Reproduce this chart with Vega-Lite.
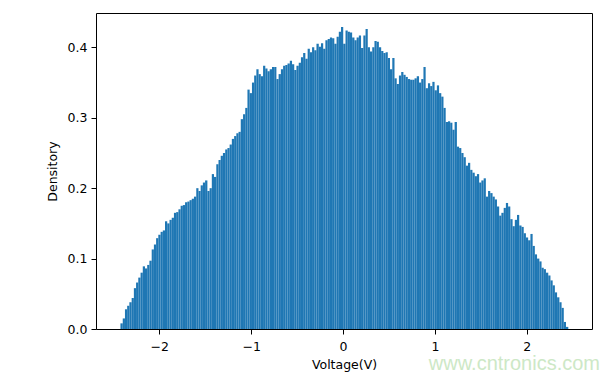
{
  "$schema": "https://vega.github.io/schema/vega-lite/v6.json",
  "width": 496,
  "height": 316,
  "autosize": {"type": "none"},
  "padding": {"left": 96, "top": 13, "right": 17, "bottom": 48},
  "background": "white",
  "title": {"text": "www.cntronics.com", "orient": "bottom", "anchor": "end", "color": "#cde8c6", "font": "Liberation Sans", "fontSize": 20, "fontWeight": "normal", "offset": -17, "dx": 8},
  "data": {"values": [
    {"lo": -2.422, "hi": -2.397, "d": 0.008},
    {"lo": -2.397, "hi": -2.373, "d": 0.015},
    {"lo": -2.373, "hi": -2.349, "d": 0.028},
    {"lo": -2.349, "hi": -2.325, "d": 0.033},
    {"lo": -2.325, "hi": -2.300, "d": 0.038},
    {"lo": -2.300, "hi": -2.276, "d": 0.044},
    {"lo": -2.276, "hi": -2.252, "d": 0.058},
    {"lo": -2.252, "hi": -2.228, "d": 0.066},
    {"lo": -2.228, "hi": -2.203, "d": 0.073},
    {"lo": -2.203, "hi": -2.179, "d": 0.080},
    {"lo": -2.179, "hi": -2.155, "d": 0.089},
    {"lo": -2.155, "hi": -2.131, "d": 0.086},
    {"lo": -2.131, "hi": -2.107, "d": 0.091},
    {"lo": -2.107, "hi": -2.082, "d": 0.097},
    {"lo": -2.082, "hi": -2.058, "d": 0.113},
    {"lo": -2.058, "hi": -2.034, "d": 0.120},
    {"lo": -2.034, "hi": -2.010, "d": 0.129},
    {"lo": -2.010, "hi": -1.985, "d": 0.134},
    {"lo": -1.985, "hi": -1.961, "d": 0.138},
    {"lo": -1.961, "hi": -1.937, "d": 0.140},
    {"lo": -1.937, "hi": -1.913, "d": 0.153},
    {"lo": -1.913, "hi": -1.888, "d": 0.150},
    {"lo": -1.888, "hi": -1.864, "d": 0.155},
    {"lo": -1.864, "hi": -1.840, "d": 0.158},
    {"lo": -1.840, "hi": -1.816, "d": 0.165},
    {"lo": -1.816, "hi": -1.791, "d": 0.166},
    {"lo": -1.791, "hi": -1.767, "d": 0.170},
    {"lo": -1.767, "hi": -1.743, "d": 0.175},
    {"lo": -1.743, "hi": -1.719, "d": 0.176},
    {"lo": -1.719, "hi": -1.694, "d": 0.180},
    {"lo": -1.694, "hi": -1.670, "d": 0.181},
    {"lo": -1.670, "hi": -1.646, "d": 0.183},
    {"lo": -1.646, "hi": -1.622, "d": 0.185},
    {"lo": -1.622, "hi": -1.597, "d": 0.188},
    {"lo": -1.597, "hi": -1.573, "d": 0.200},
    {"lo": -1.573, "hi": -1.549, "d": 0.196},
    {"lo": -1.549, "hi": -1.525, "d": 0.204},
    {"lo": -1.525, "hi": -1.501, "d": 0.208},
    {"lo": -1.501, "hi": -1.476, "d": 0.211},
    {"lo": -1.476, "hi": -1.452, "d": 0.196},
    {"lo": -1.452, "hi": -1.428, "d": 0.200},
    {"lo": -1.428, "hi": -1.404, "d": 0.220},
    {"lo": -1.404, "hi": -1.379, "d": 0.216},
    {"lo": -1.379, "hi": -1.355, "d": 0.234},
    {"lo": -1.355, "hi": -1.331, "d": 0.240},
    {"lo": -1.331, "hi": -1.307, "d": 0.246},
    {"lo": -1.307, "hi": -1.282, "d": 0.250},
    {"lo": -1.282, "hi": -1.258, "d": 0.255},
    {"lo": -1.258, "hi": -1.234, "d": 0.257},
    {"lo": -1.234, "hi": -1.210, "d": 0.262},
    {"lo": -1.210, "hi": -1.185, "d": 0.270},
    {"lo": -1.185, "hi": -1.161, "d": 0.274},
    {"lo": -1.161, "hi": -1.137, "d": 0.278},
    {"lo": -1.137, "hi": -1.113, "d": 0.280},
    {"lo": -1.113, "hi": -1.088, "d": 0.298},
    {"lo": -1.088, "hi": -1.064, "d": 0.305},
    {"lo": -1.064, "hi": -1.040, "d": 0.314},
    {"lo": -1.040, "hi": -1.016, "d": 0.340},
    {"lo": -1.016, "hi": -0.991, "d": 0.335},
    {"lo": -0.991, "hi": -0.967, "d": 0.350},
    {"lo": -0.967, "hi": -0.943, "d": 0.360},
    {"lo": -0.943, "hi": -0.919, "d": 0.369},
    {"lo": -0.919, "hi": -0.895, "d": 0.362},
    {"lo": -0.895, "hi": -0.870, "d": 0.359},
    {"lo": -0.870, "hi": -0.846, "d": 0.374},
    {"lo": -0.846, "hi": -0.822, "d": 0.370},
    {"lo": -0.822, "hi": -0.798, "d": 0.366},
    {"lo": -0.798, "hi": -0.773, "d": 0.369},
    {"lo": -0.773, "hi": -0.749, "d": 0.372},
    {"lo": -0.749, "hi": -0.725, "d": 0.372},
    {"lo": -0.725, "hi": -0.701, "d": 0.355},
    {"lo": -0.701, "hi": -0.676, "d": 0.362},
    {"lo": -0.676, "hi": -0.652, "d": 0.369},
    {"lo": -0.652, "hi": -0.628, "d": 0.374},
    {"lo": -0.628, "hi": -0.604, "d": 0.375},
    {"lo": -0.604, "hi": -0.579, "d": 0.377},
    {"lo": -0.579, "hi": -0.555, "d": 0.381},
    {"lo": -0.555, "hi": -0.531, "d": 0.376},
    {"lo": -0.531, "hi": -0.507, "d": 0.368},
    {"lo": -0.507, "hi": -0.482, "d": 0.374},
    {"lo": -0.482, "hi": -0.458, "d": 0.378},
    {"lo": -0.458, "hi": -0.434, "d": 0.386},
    {"lo": -0.434, "hi": -0.410, "d": 0.392},
    {"lo": -0.410, "hi": -0.385, "d": 0.384},
    {"lo": -0.385, "hi": -0.361, "d": 0.398},
    {"lo": -0.361, "hi": -0.337, "d": 0.393},
    {"lo": -0.337, "hi": -0.313, "d": 0.400},
    {"lo": -0.313, "hi": -0.289, "d": 0.396},
    {"lo": -0.289, "hi": -0.264, "d": 0.405},
    {"lo": -0.264, "hi": -0.240, "d": 0.401},
    {"lo": -0.240, "hi": -0.216, "d": 0.406},
    {"lo": -0.216, "hi": -0.192, "d": 0.398},
    {"lo": -0.192, "hi": -0.167, "d": 0.410},
    {"lo": -0.167, "hi": -0.143, "d": 0.412},
    {"lo": -0.143, "hi": -0.119, "d": 0.414},
    {"lo": -0.119, "hi": -0.095, "d": 0.413},
    {"lo": -0.095, "hi": -0.070, "d": 0.405},
    {"lo": -0.070, "hi": -0.046, "d": 0.415},
    {"lo": -0.046, "hi": -0.022, "d": 0.422},
    {"lo": -0.022, "hi": 0.002, "d": 0.429},
    {"lo": 0.002, "hi": 0.027, "d": 0.405},
    {"lo": 0.027, "hi": 0.051, "d": 0.424},
    {"lo": 0.051, "hi": 0.075, "d": 0.422},
    {"lo": 0.075, "hi": 0.099, "d": 0.421},
    {"lo": 0.099, "hi": 0.124, "d": 0.414},
    {"lo": 0.124, "hi": 0.148, "d": 0.410},
    {"lo": 0.148, "hi": 0.172, "d": 0.414},
    {"lo": 0.172, "hi": 0.196, "d": 0.417},
    {"lo": 0.196, "hi": 0.221, "d": 0.399},
    {"lo": 0.221, "hi": 0.245, "d": 0.417},
    {"lo": 0.245, "hi": 0.269, "d": 0.426},
    {"lo": 0.269, "hi": 0.293, "d": 0.400},
    {"lo": 0.293, "hi": 0.318, "d": 0.394},
    {"lo": 0.318, "hi": 0.342, "d": 0.400},
    {"lo": 0.342, "hi": 0.366, "d": 0.409},
    {"lo": 0.366, "hi": 0.390, "d": 0.408},
    {"lo": 0.390, "hi": 0.415, "d": 0.400},
    {"lo": 0.415, "hi": 0.439, "d": 0.395},
    {"lo": 0.439, "hi": 0.463, "d": 0.392},
    {"lo": 0.463, "hi": 0.487, "d": 0.393},
    {"lo": 0.487, "hi": 0.511, "d": 0.385},
    {"lo": 0.511, "hi": 0.536, "d": 0.369},
    {"lo": 0.536, "hi": 0.560, "d": 0.385},
    {"lo": 0.560, "hi": 0.584, "d": 0.356},
    {"lo": 0.584, "hi": 0.608, "d": 0.348},
    {"lo": 0.608, "hi": 0.633, "d": 0.360},
    {"lo": 0.633, "hi": 0.657, "d": 0.365},
    {"lo": 0.657, "hi": 0.681, "d": 0.361},
    {"lo": 0.681, "hi": 0.705, "d": 0.358},
    {"lo": 0.705, "hi": 0.730, "d": 0.355},
    {"lo": 0.730, "hi": 0.754, "d": 0.354},
    {"lo": 0.754, "hi": 0.778, "d": 0.354},
    {"lo": 0.778, "hi": 0.802, "d": 0.356},
    {"lo": 0.802, "hi": 0.827, "d": 0.359},
    {"lo": 0.827, "hi": 0.851, "d": 0.350},
    {"lo": 0.851, "hi": 0.875, "d": 0.355},
    {"lo": 0.875, "hi": 0.899, "d": 0.372},
    {"lo": 0.899, "hi": 0.924, "d": 0.342},
    {"lo": 0.924, "hi": 0.948, "d": 0.349},
    {"lo": 0.948, "hi": 0.972, "d": 0.345},
    {"lo": 0.972, "hi": 0.996, "d": 0.351},
    {"lo": 0.996, "hi": 1.021, "d": 0.339},
    {"lo": 1.021, "hi": 1.045, "d": 0.346},
    {"lo": 1.045, "hi": 1.069, "d": 0.335},
    {"lo": 1.069, "hi": 1.093, "d": 0.330},
    {"lo": 1.093, "hi": 1.117, "d": 0.314},
    {"lo": 1.117, "hi": 1.142, "d": 0.294},
    {"lo": 1.142, "hi": 1.166, "d": 0.295},
    {"lo": 1.166, "hi": 1.190, "d": 0.293},
    {"lo": 1.190, "hi": 1.214, "d": 0.283},
    {"lo": 1.214, "hi": 1.239, "d": 0.294},
    {"lo": 1.239, "hi": 1.263, "d": 0.259},
    {"lo": 1.263, "hi": 1.287, "d": 0.257},
    {"lo": 1.287, "hi": 1.311, "d": 0.250},
    {"lo": 1.311, "hi": 1.336, "d": 0.244},
    {"lo": 1.336, "hi": 1.360, "d": 0.232},
    {"lo": 1.360, "hi": 1.384, "d": 0.236},
    {"lo": 1.384, "hi": 1.408, "d": 0.226},
    {"lo": 1.408, "hi": 1.433, "d": 0.222},
    {"lo": 1.433, "hi": 1.457, "d": 0.217},
    {"lo": 1.457, "hi": 1.481, "d": 0.220},
    {"lo": 1.481, "hi": 1.505, "d": 0.208},
    {"lo": 1.505, "hi": 1.530, "d": 0.211},
    {"lo": 1.530, "hi": 1.554, "d": 0.214},
    {"lo": 1.554, "hi": 1.578, "d": 0.188},
    {"lo": 1.578, "hi": 1.602, "d": 0.196},
    {"lo": 1.602, "hi": 1.627, "d": 0.193},
    {"lo": 1.627, "hi": 1.651, "d": 0.188},
    {"lo": 1.651, "hi": 1.675, "d": 0.184},
    {"lo": 1.675, "hi": 1.699, "d": 0.174},
    {"lo": 1.699, "hi": 1.723, "d": 0.161},
    {"lo": 1.723, "hi": 1.748, "d": 0.165},
    {"lo": 1.748, "hi": 1.772, "d": 0.172},
    {"lo": 1.772, "hi": 1.796, "d": 0.179},
    {"lo": 1.796, "hi": 1.820, "d": 0.174},
    {"lo": 1.820, "hi": 1.845, "d": 0.156},
    {"lo": 1.845, "hi": 1.869, "d": 0.146},
    {"lo": 1.869, "hi": 1.893, "d": 0.155},
    {"lo": 1.893, "hi": 1.917, "d": 0.162},
    {"lo": 1.917, "hi": 1.942, "d": 0.147},
    {"lo": 1.942, "hi": 1.966, "d": 0.145},
    {"lo": 1.966, "hi": 1.990, "d": 0.136},
    {"lo": 1.990, "hi": 2.014, "d": 0.130},
    {"lo": 2.014, "hi": 2.039, "d": 0.126},
    {"lo": 2.039, "hi": 2.063, "d": 0.135},
    {"lo": 2.063, "hi": 2.087, "d": 0.118},
    {"lo": 2.087, "hi": 2.111, "d": 0.106},
    {"lo": 2.111, "hi": 2.136, "d": 0.100},
    {"lo": 2.136, "hi": 2.160, "d": 0.096},
    {"lo": 2.160, "hi": 2.184, "d": 0.087},
    {"lo": 2.184, "hi": 2.208, "d": 0.085},
    {"lo": 2.208, "hi": 2.233, "d": 0.080},
    {"lo": 2.233, "hi": 2.257, "d": 0.076},
    {"lo": 2.257, "hi": 2.281, "d": 0.069},
    {"lo": 2.281, "hi": 2.305, "d": 0.062},
    {"lo": 2.305, "hi": 2.329, "d": 0.052},
    {"lo": 2.329, "hi": 2.354, "d": 0.045},
    {"lo": 2.354, "hi": 2.378, "d": 0.038},
    {"lo": 2.378, "hi": 2.402, "d": 0.030},
    {"lo": 2.402, "hi": 2.426, "d": 0.010},
    {"lo": 2.426, "hi": 2.451, "d": 0.003}
  ]},
  "mark": {"type": "bar", "color": "#1f77b4", "strokeWidth": 0},
  "encoding": {
    "x": {
      "field": "lo", "type": "quantitative",
      "scale": {"domain": [-2.688, 2.709], "nice": false, "zero": false},
      "axis": {"values": [-2, -1, 0, 1, 2], "format": "d", "title": "Voltage(V)", "titlePadding": 6, "labelPadding": 6}
    },
    "x2": {"field": "hi"},
    "y": {
      "field": "d", "type": "quantitative",
      "scale": {"domain": [0, 0.4488], "nice": false},
      "axis": {"values": [0, 0.1, 0.2, 0.3, 0.4], "format": ".1f", "title": "Densitory", "titlePadding": 8}
    },
    "y2": {"datum": 0}
  },
  "config": {
    "view": {"stroke": "black", "strokeWidth": 1},
    "axis": {
      "domain": false, "grid": false, "labelFlush": false, "labelOverlap": false,
      "ticks": true, "tickColor": "black", "tickSize": 5, "tickWidth": 1,
      "labelFont": "DejaVu Sans", "labelFontSize": 12.5, "labelColor": "black", "labelPadding": 4,
      "titleFont": "DejaVu Sans", "titleFontSize": 12.5, "titleFontWeight": "normal", "titleColor": "black"
    }
  }
}
